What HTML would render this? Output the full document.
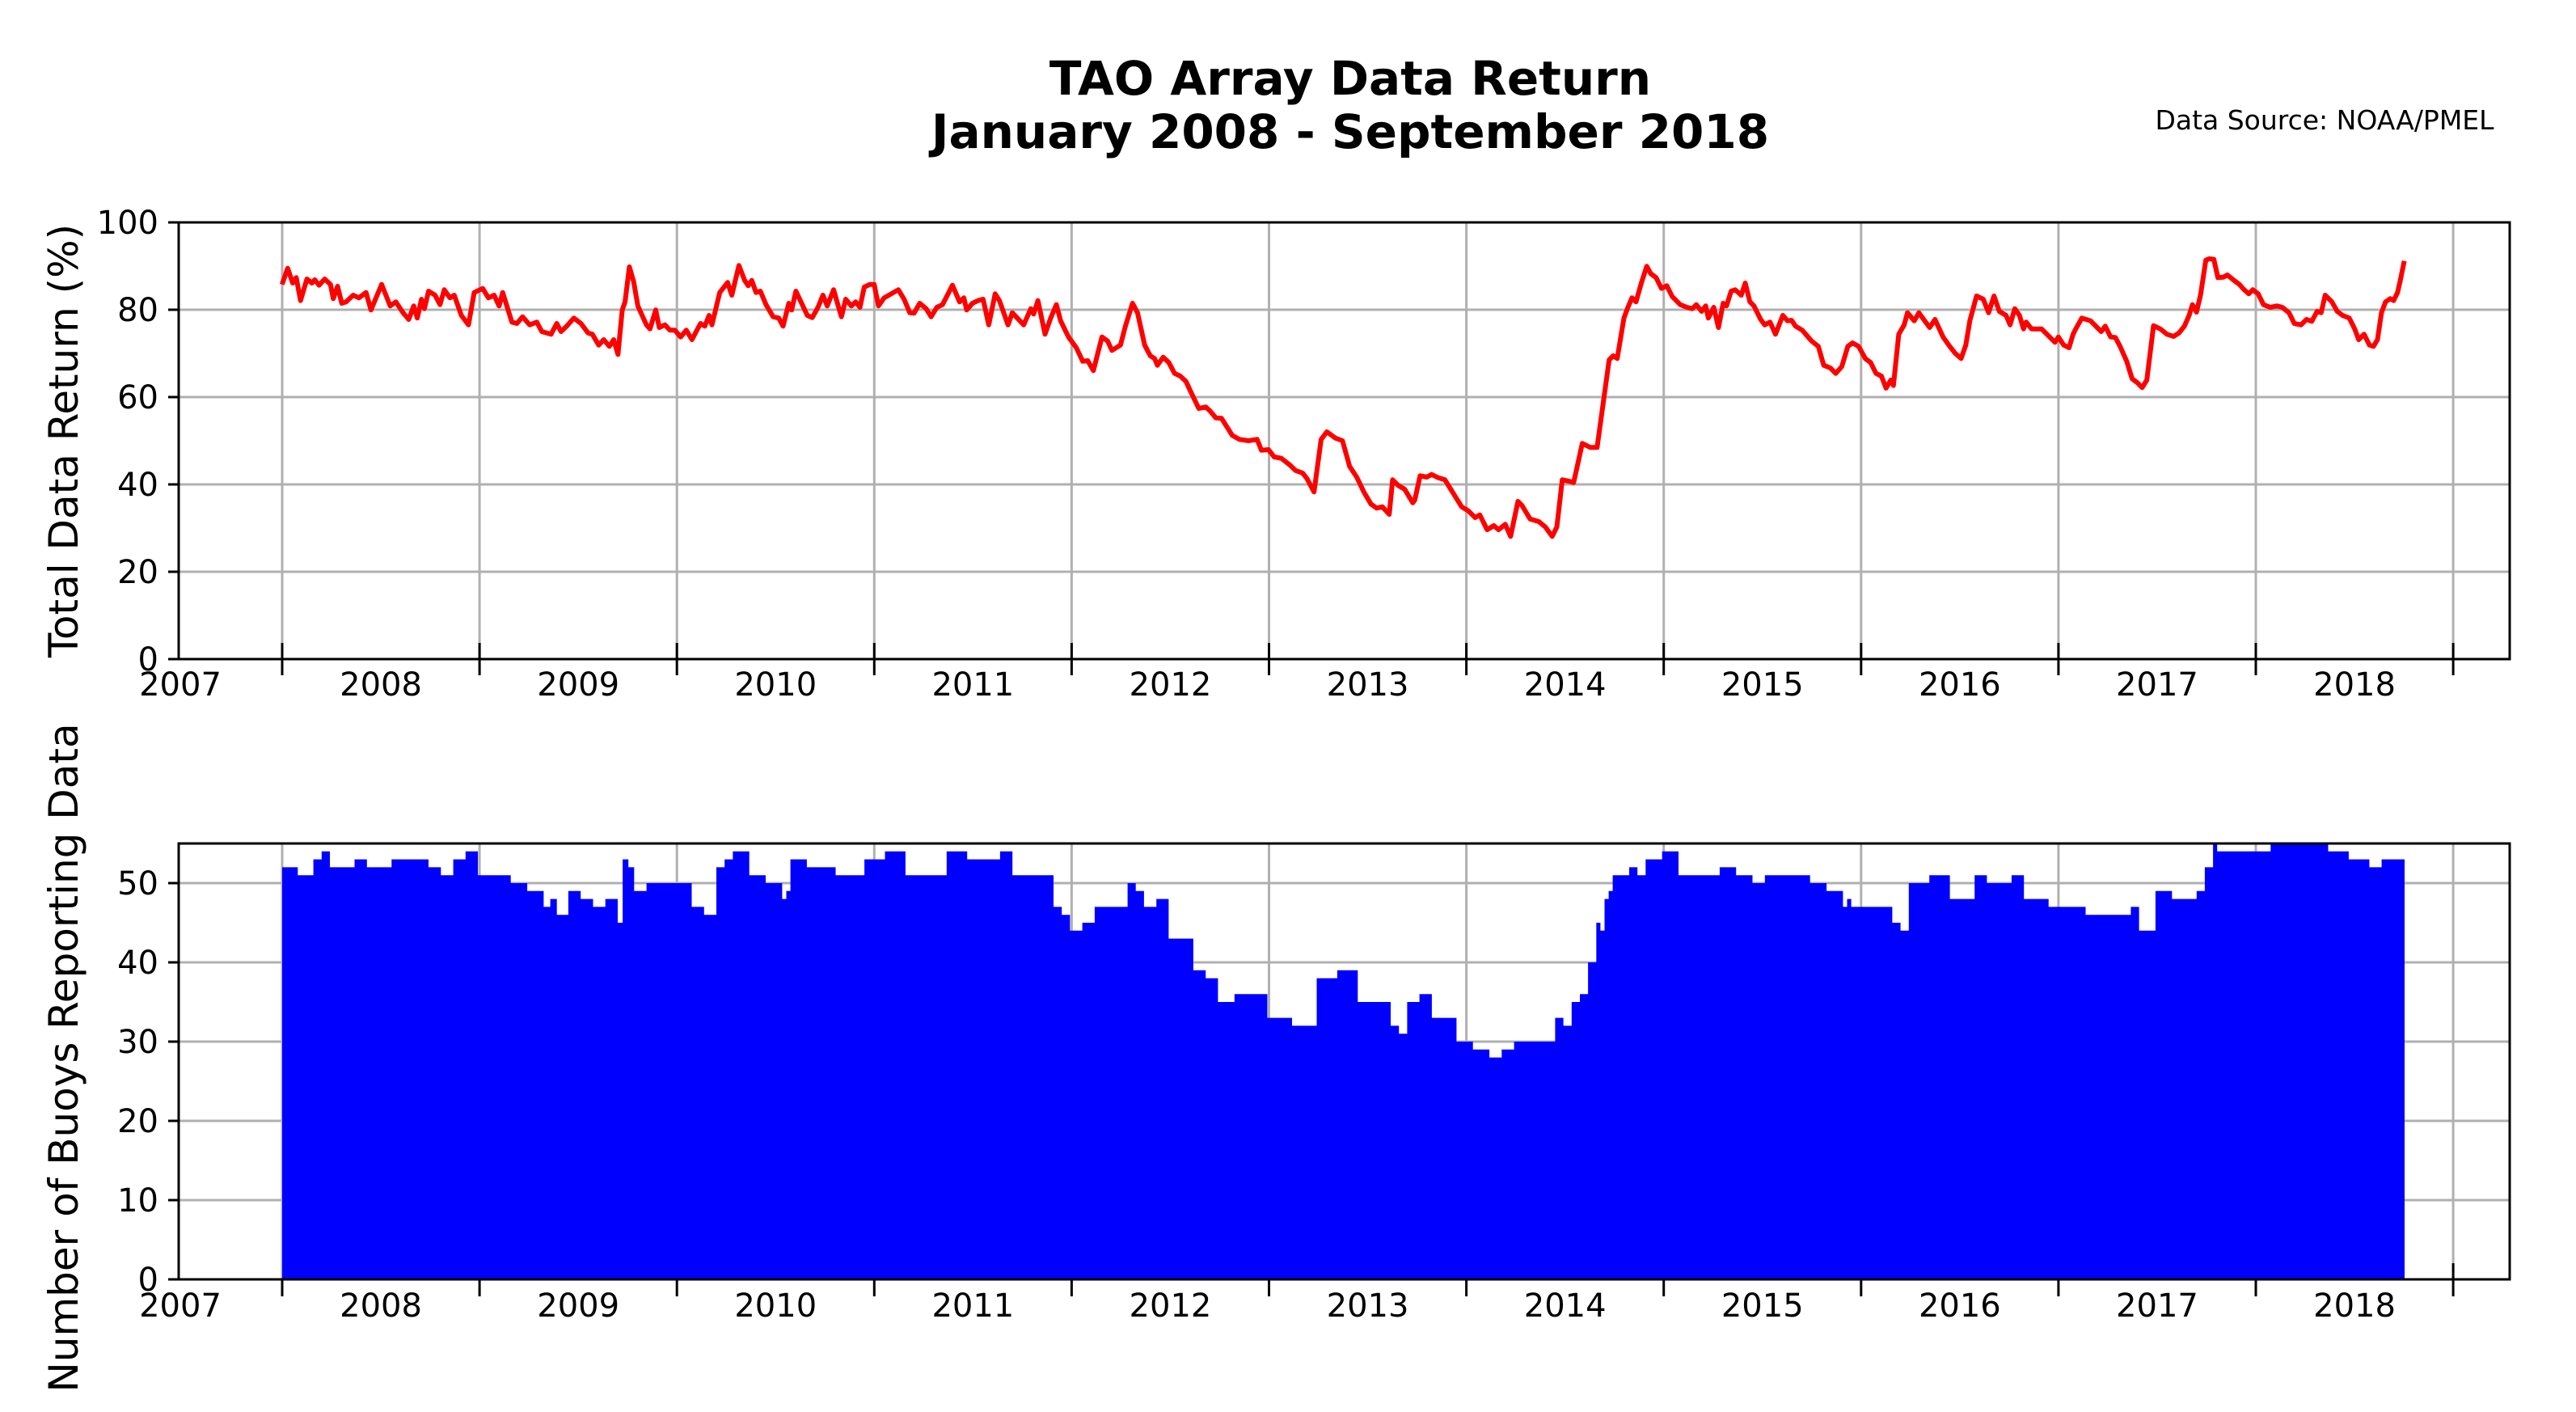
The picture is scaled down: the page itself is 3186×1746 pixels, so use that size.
<!DOCTYPE html>
<html><head><meta charset="utf-8"><style>
html,body{margin:0;padding:0;background:#fff;}
svg{display:block;font-family:"DejaVu Sans","Liberation Sans",sans-serif;}
</style></head><body>
<svg id="s" width="3186" height="1746" viewBox="0 0 3186 1746" xmlns="http://www.w3.org/2000/svg">
<rect width="3186" height="1746" fill="#fff"/>
<text x="1670" y="117" font-size="58" font-weight="bold" text-anchor="middle">TAO Array Data Return</text>
<text x="1670" y="183" font-size="58" font-weight="bold" text-anchor="middle">January 2008 - September 2018</text>
<text x="2875" y="160" font-size="33" text-anchor="middle">Data Source: NOAA/PMEL</text>
<g id="grid" stroke="#b0b0b0" stroke-width="3"></g>
<path id="bars" fill="#0000ff" stroke="none"/>
<polyline id="line" fill="none" stroke="#ff0000" stroke-width="6" stroke-linejoin="round"/>
<g id="axes" stroke="#000" stroke-width="3" fill="none">
<rect x="221" y="275" width="2883" height="540"/>
<rect x="221" y="1043" width="2883" height="539"/>
</g>
<g id="ticks" stroke="#000" stroke-width="3"></g>
<g id="labels" font-size="40" fill="#000"></g>
<text transform="translate(96,545) rotate(-90)" font-size="50" text-anchor="middle">Total Data Return (%)</text>
<text transform="translate(96,1308) rotate(-90)" font-size="50" text-anchor="middle">Number of Buoys Reporting Data</text>
</svg>
<script>
var NS="http://www.w3.org/2000/svg";
function el(p,t,a,txt){var e=document.createElementNS(NS,t);for(var k in a)e.setAttribute(k,a[k]);if(txt!==undefined)e.textContent=txt;document.getElementById(p).appendChild(e);return e;}
var X0=349,YW=244.1;
for(var i=0;i<12;i++){var x=X0+i*YW;
 el('grid','line',{x1:x,y1:275,x2:x,y2:815});
 el('grid','line',{x1:x,y1:1043,x2:x,y2:1582});
 el('ticks','line',{x1:x,y1:795,x2:x,y2:835});
 el('ticks','line',{x1:x,y1:(i==11?1562:1582),x2:x,y2:1603});
}
for(var v=0;v<=100;v+=20){var y=815-v*5.4;
 if(v>0&&v<100)el('grid','line',{x1:221,y1:y,x2:3104,y2:y});
 el('ticks','line',{x1:208,y1:y,x2:221,y2:y});
 el('labels','text',{x:196,y:y+14,'text-anchor':'end'},String(v));
}
for(var v=0;v<=50;v+=10){var y=1582-v*9.8;
 if(v>0)el('grid','line',{x1:221,y1:y,x2:3104,y2:y});
 el('ticks','line',{x1:208,y1:y,x2:221,y2:y});
 el('labels','text',{x:196,y:y+14,'text-anchor':'end'},String(v));
}
var lbY=[860,1628];
lbY.forEach(function(by){
 el('labels','text',{x:223,y:by,'text-anchor':'middle'},'2007');
 for(var k=0;k<11;k++)el('labels','text',{x:X0+YW*(k+0.5),y:by,'text-anchor':'middle'},String(2008+k));
});
var z4=[[10,215],[18,155],[25,210],[30,190],[36,275],[45,195],[52,210],[56,198],[62,218],[70,195],[78,215],[82,268],[88,222],[94,285],[100,280],[110,255],[118,265],[128,245],[135,310],[150,215],[162,295],[170,280],[180,320],[188,345],[195,295],[200,340],[206,270],[210,305],[216,240],[225,255],[232,290],[238,235],[246,265],[252,255],[262,330],[272,365],[280,245],[292,230],[300,265],[308,255],[315,295],[320,245],[333,355],[340,360],[348,335],[358,365],[368,355],[375,390],[388,400],[396,360],[402,390],[410,370],[420,340],[430,360],[440,395],[446,400],[455,440],[462,420],[470,445],[476,420],[482,475],[488,310],[492,280],[498,150],[504,205],[510,295],[522,365],[527,380],[535,310],[540,375],[548,365],[555,385],[562,385],[570,410],[578,385],[586,420],[598,360],[604,370],[610,330],[614,365],[625,245],[636,208],[642,255],[652,145],[660,200],[665,220],[670,200],[676,245],[682,240],[690,290],[700,335],[708,340],[714,370],[722,285],[726,310],[732,240],[748,330],[755,338],[763,300],[770,255],[776,295],[785,235],[792,300],[796,335],[802,270],[810,295],[816,280],[822,300],[828,225],[836,215],[842,215],[848,295],[856,265],[866,250],[876,235],[884,270],[892,320],[898,322],[906,285],[915,305],[922,335],[930,300],[938,290],[952,218],[962,280],[968,265],[972,310],[980,285],[988,275],[995,270],[1003,365],[1012,250],[1018,275],[1030,365],[1036,320],[1052,365],[1062,305],[1066,325],[1072,275],[1082,400],[1090,340],[1098,290],[1104,350],[1115,410],[1126,450],[1135,500],[1142,498],[1150,535],[1162,410],[1170,425],[1176,460],[1182,450],[1188,440],[1195,370],[1205,285],[1212,320],[1222,440],[1230,480],[1236,490],[1240,515],[1248,485],[1256,505],[1264,545],[1272,555],[1280,575],[1288,620],[1298,675],[1308,670],[1314,685],[1322,710],[1330,712],[1345,775],[1355,790],[1368,795],[1380,790],[1386,830],[1396,828],[1404,855],[1414,860],[1426,885],[1434,905],[1444,915],[1450,935],[1460,985],[1470,790],[1478,762],[1490,785],[1500,795],[1510,890],[1520,930],[1530,985],[1540,1030],[1548,1045],[1556,1040]];
var z5=[[22,1068],[27,940],[35,960],[45,975],[57,1025],[60,1015],[68,925],[78,930],[85,920],[95,932],[105,940],[110,960],[120,1000],[130,1040],[140,1055],[150,1080],[157,1070],[168,1125],[178,1110],[185,1125],[195,1105],[203,1150],[214,1020],[220,1035],[232,1085],[245,1095],[255,1115],[265,1150],[272,1115],[280,940],[290,945],[297,950],[310,805],[322,820],[332,820],[350,495],[356,480],[362,490],[372,340],[378,300],[384,265],[390,280],[398,210],[406,148],[412,175],[420,190],[428,230],[436,220],[444,260],[456,290],[466,300],[474,305],[480,290],[488,315],[494,295],[498,340],[506,300],[513,375],[520,285],[525,295],[532,240],[538,235],[547,255],[553,210],[560,280],[566,295],[576,345],[582,365],[590,355],[598,400],[609,330],[616,350],[622,348],[628,370],[638,385],[645,405],[652,425],[662,445],[670,515],[680,525],[688,545],[697,520],[706,445],[713,432],[722,445],[732,490],[740,505],[748,545],[756,555],[763,600],[770,570],[774,590],[782,400],[790,365],[795,320],[805,350],[812,320],[822,355],[828,375],[836,345],[848,410],[858,445],[866,470],[875,490],[882,440],[888,350],[898,258],[908,270],[916,320],[924,258],[932,315],[942,330],[948,365],[955,305],[962,330],[968,380],[972,355],[980,380],[995,380],[1005,405],[1015,430],[1020,410],[1028,440],[1036,450],[1042,400],[1046,380],[1055,340],[1068,350],[1078,375],[1084,390],[1090,370],[1098,410],[1105,412],[1112,445],[1122,500],[1130,565],[1138,580],[1145,598],[1152,570],[1162,368],[1172,380],[1182,400],[1192,408],[1200,395],[1208,370],[1215,330],[1220,290],[1226,318],[1232,255],[1240,125],[1245,120],[1252,122],[1258,190],[1266,188],[1272,180],[1282,200],[1290,215],[1296,232],[1304,250],[1310,235],[1318,250],[1326,290],[1336,300],[1346,295],[1354,300],[1364,320],[1372,360],[1382,365],[1390,345],[1398,352],[1406,315],[1412,320],[1418,255],[1428,280],[1436,315],[1444,330],[1454,340],[1462,380],[1468,420],[1476,400],[1484,440],[1490,445],[1496,420],[1502,320],[1508,280],[1515,268],[1520,275],[1526,245],[1530,200],[1536,128]];
var pts=[];
z4.forEach(function(p){pts.push((340+p[0]/1.136).toFixed(1)+','+(280+p[1]/3).toFixed(1));});
z5.forEach(function(p){pts.push((1700+p[0]/1.206).toFixed(1)+','+(280+p[1]/3).toFixed(1));});
document.getElementById('line').setAttribute('points',pts.join(' '));
var seg=[[190,52],[200,53],[215,52],[230,53],[245,52],[260,53],[275,52],[290,53],[310,51],[330,50],[338,47],[345,46],[360,49],[375,47],[378,45],[385,53],[400,49],[420,50],[435,47],[445,52],[455,54],[475,51],[480,48],[490,53],[525,52],[550,53],[575,51],[600,54],[615,53],[640,51],[650,47],[665,44],[685,47],[695,50],[710,47],[725,43],[740,39],[760,35],[770,36],[800,33],[825,38],[845,35],[855,32],[870,35],[885,33],[905,30],[920,28],[945,30],[955,33],[965,35],[970,40],[975,45],[980,48],[990,51],[1000,52],[1020,53],[1045,51],[1065,52],[1080,50],[1100,51],[1120,50],[1125,47],[1150,47],[1160,45],[1185,50],[1200,48],[1215,51],[1230,50],[1245,48],[1290,47],[1300,46],[1310,44],[1330,49],[1340,48],[1345,52],[1350,55],[1410,54],[1415,55],[1440,54],[1455,52],[1465,53]];
function fx(dx){return X0+(dx-171)/120*YW;}
var d='M'+X0+',1582';var px=X0;
seg.forEach(function(s,i){var x2=Math.min(fx(s[0]),2974);var y=1582-s[1]*9.8;
 var mid=(px+x2)/2; var j=(i%3==0)?-1:(i%3==1?1:0);
 d+=' L'+px.toFixed(1)+','+y.toFixed(1)+' L'+mid.toFixed(1)+','+y.toFixed(1)+' L'+mid.toFixed(1)+','+(y-j*9.8).toFixed(1)+' L'+x2.toFixed(1)+','+(y-j*9.8).toFixed(1);
 px=x2;});
d+=' L2974,1582 Z';
document.getElementById('bars').setAttribute('d',d);
</script>
</body></html>
